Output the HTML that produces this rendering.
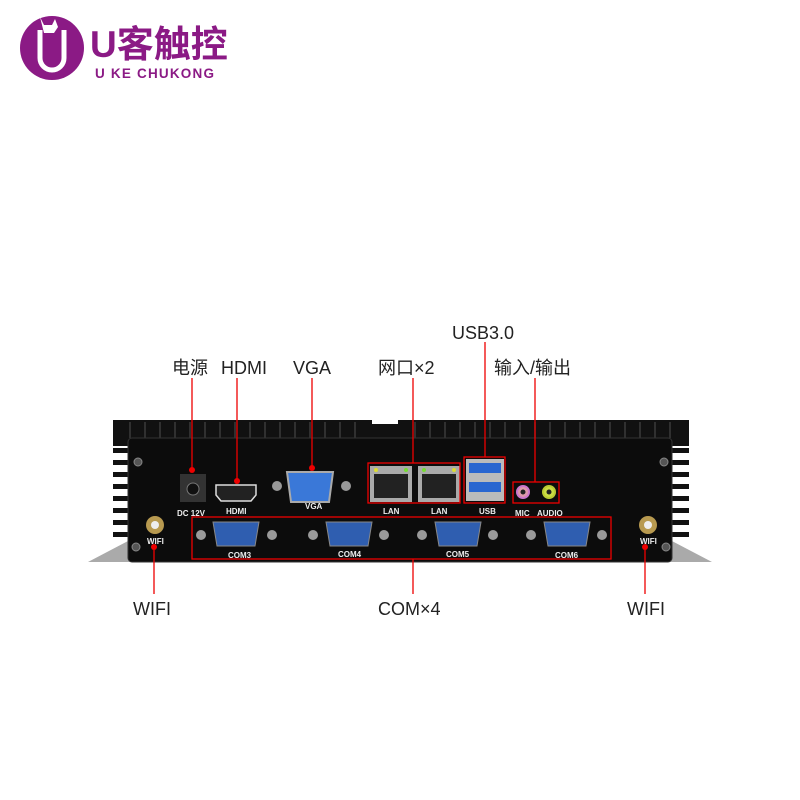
<!DOCTYPE html>
<html><head><meta charset="utf-8"><style>
html,body{margin:0;padding:0;background:#fff;width:800px;height:800px;overflow:hidden}
text{font-family:"Liberation Sans","Noto Sans CJK SC",sans-serif}
</style></head><body>
<svg width="800" height="800" viewBox="0 0 800 800" xmlns="http://www.w3.org/2000/svg">
<!-- logo -->
<circle cx="52" cy="48" r="32" fill="#8b1a85"/>
<path d="M40 30 V58 a12 12 0 0 0 24 0 V30" fill="none" stroke="#fff" stroke-width="5"/>
<path d="M40 17 l4 8 h8 l3-6 l3 8 l-4 6 h-10z" fill="#fff"/>
<text x="90" y="57" font-size="37" font-weight="bold" fill="#8b1a85">U客触控</text>
<text x="95" y="78" font-size="13.5" font-weight="bold" fill="#8b1a85" letter-spacing="1.2">U  KE CHUKONG</text>

<!-- feet -->
<path d="M88 562 L130 540 L130 562 Z" fill="#aaa"/>
<path d="M712 562 L670 540 L670 562 Z" fill="#aaa"/>
<!-- body top -->
<rect x="113" y="420" width="576" height="26" fill="#111"/>
<rect x="372" y="418" width="26" height="6" fill="#fff"/>
<g stroke="#3a3a3a" stroke-width="1.5">
<path d="M130 422 V438 M145 422 V438 M160 422 V438 M175 422 V438 M190 422 V438 M205 422 V438 M220 422 V438 M235 422 V438 M250 422 V438 M265 422 V438 M280 422 V438 M295 422 V438 M310 422 V438 M325 422 V438 M340 422 V438 M355 422 V438 M415 422 V438 M430 422 V438 M445 422 V438 M460 422 V438 M475 422 V438 M490 422 V438 M505 422 V438 M520 422 V438 M535 422 V438 M550 422 V438 M565 422 V438 M580 422 V438 M595 422 V438 M610 422 V438 M625 422 V438 M640 422 V438 M655 422 V438 M670 422 V438"/>
</g>
<!-- side fins -->
<g fill="#111">
<rect x="113" y="448" width="18" height="5"/><rect x="113" y="460" width="18" height="5"/><rect x="113" y="472" width="18" height="5"/><rect x="113" y="484" width="18" height="5"/><rect x="113" y="496" width="18" height="5"/><rect x="113" y="508" width="18" height="5"/><rect x="113" y="520" width="18" height="5"/><rect x="113" y="532" width="18" height="5"/>
<rect x="671" y="448" width="18" height="5"/><rect x="671" y="460" width="18" height="5"/><rect x="671" y="472" width="18" height="5"/><rect x="671" y="484" width="18" height="5"/><rect x="671" y="496" width="18" height="5"/><rect x="671" y="508" width="18" height="5"/><rect x="671" y="520" width="18" height="5"/><rect x="671" y="532" width="18" height="5"/>
</g>
<rect x="128" y="438" width="544" height="124" rx="4" fill="#0c0c0c" stroke="#333"/>
<!-- screws -->
<g fill="#555" stroke="#888"><circle cx="138" cy="462" r="4"/><circle cx="664" cy="462" r="4"/><circle cx="136" cy="547" r="4"/><circle cx="666" cy="547" r="4"/></g>
<!-- DC -->
<rect x="180" y="474" width="26" height="28" fill="#333"/><circle cx="193" cy="489" r="6" fill="#111" stroke="#777"/>
<!-- HDMI -->
<path d="M216 485 h40 v10 l-5 6 h-30 l-5 -6z" fill="#222" stroke="#ddd" stroke-width="1.5"/>
<!-- VGA -->
<circle cx="277" cy="486" r="5" fill="#999"/><circle cx="346" cy="486" r="5" fill="#999"/>
<path d="M287 472 h46 l-4 30 h-38z" fill="#3a78d8" stroke="#aaa" stroke-width="2"/>
<!-- LAN -->
<rect x="370" y="466" width="42" height="36" fill="#aaa"/><rect x="374" y="474" width="34" height="24" fill="#222"/>
<rect x="418" y="466" width="42" height="36" fill="#aaa"/><rect x="422" y="474" width="34" height="24" fill="#222"/>
<circle cx="376" cy="470" r="2" fill="#dd3"/><circle cx="406" cy="470" r="2" fill="#7d3"/><circle cx="424" cy="470" r="2" fill="#7d3"/><circle cx="454" cy="470" r="2" fill="#dd3"/>
<!-- USB -->
<rect x="466" y="459" width="38" height="42" fill="#bbb"/><rect x="469" y="463" width="32" height="10" fill="#2a66d0"/><rect x="469" y="482" width="32" height="10" fill="#2a66d0"/>
<!-- audio -->
<circle cx="523" cy="492" r="6" fill="#d9a" stroke="#c7c" stroke-width="2"/><circle cx="523" cy="492" r="2.5" fill="#222"/>
<circle cx="549" cy="492" r="6" fill="#cd4" stroke="#bc3" stroke-width="2"/><circle cx="549" cy="492" r="2.5" fill="#222"/>
<!-- COM ports -->
<g fill="#9a9a9a"><circle cx="201" cy="535" r="5"/><circle cx="272" cy="535" r="5"/><circle cx="313" cy="535" r="5"/><circle cx="384" cy="535" r="5"/><circle cx="422" cy="535" r="5"/><circle cx="493" cy="535" r="5"/><circle cx="531" cy="535" r="5"/><circle cx="602" cy="535" r="5"/></g>
<g fill="#2f5eb0" stroke="#888"><path d="M213 522 h46 l-4 24 h-38z"/><path d="M326 522 h46 l-4 24 h-38z"/><path d="M435 522 h46 l-4 24 h-38z"/><path d="M544 522 h46 l-4 24 h-38z"/></g>
<!-- antennas -->
<circle cx="155" cy="525" r="9" fill="#b89a50"/><circle cx="155" cy="525" r="4" fill="#eee"/>
<circle cx="648" cy="525" r="9" fill="#b89a50"/><circle cx="648" cy="525" r="4" fill="#eee"/>
<!-- small labels -->
<g fill="#eee" font-size="8" font-weight="bold">
<text x="177" y="516">DC 12V</text><text x="226" y="514">HDMI</text><text x="305" y="509">VGA</text>
<text x="383" y="514">LAN</text><text x="431" y="514">LAN</text><text x="479" y="514">USB</text>
<text x="515" y="516">MIC</text><text x="537" y="516">AUDIO</text>
<text x="147" y="544">WIFI</text><text x="640" y="544">WIFI</text>
<text x="228" y="558">COM3</text><text x="338" y="557">COM4</text><text x="446" y="557">COM5</text><text x="555" y="558">COM6</text>
</g>
<!-- red boxes & lines -->
<g fill="none" stroke="#e00" stroke-width="1.3">
<rect x="368" y="463" width="92" height="40"/>
<rect x="464" y="457" width="41" height="46"/>
<rect x="513" y="482" width="46" height="21"/>
<rect x="192" y="517" width="419" height="42"/>
<path d="M192 378 V470 M237 378 V481 M312 378 V468 M413 378 V463 M485 342 V457 M535 378 V482 M154 547 V594 M645 547 V594 M413 559 V594"/>
</g>
<g fill="#e00"><circle cx="192" cy="470" r="3"/><circle cx="237" cy="481" r="3"/><circle cx="312" cy="468" r="3"/><circle cx="154" cy="547" r="3"/><circle cx="645" cy="547" r="3"/></g>
<!-- big labels -->
<g fill="#222" font-size="18">
<text x="172" y="374">电源</text><text x="221" y="374">HDMI</text><text x="293" y="374">VGA</text>
<text x="378" y="374">网口×2</text><text x="494" y="374">输入/输出</text><text x="452" y="339">USB3.0</text>
<text x="133" y="615">WIFI</text><text x="378" y="615">COM×4</text><text x="627" y="615">WIFI</text>
</g>
</svg>
</body></html>
